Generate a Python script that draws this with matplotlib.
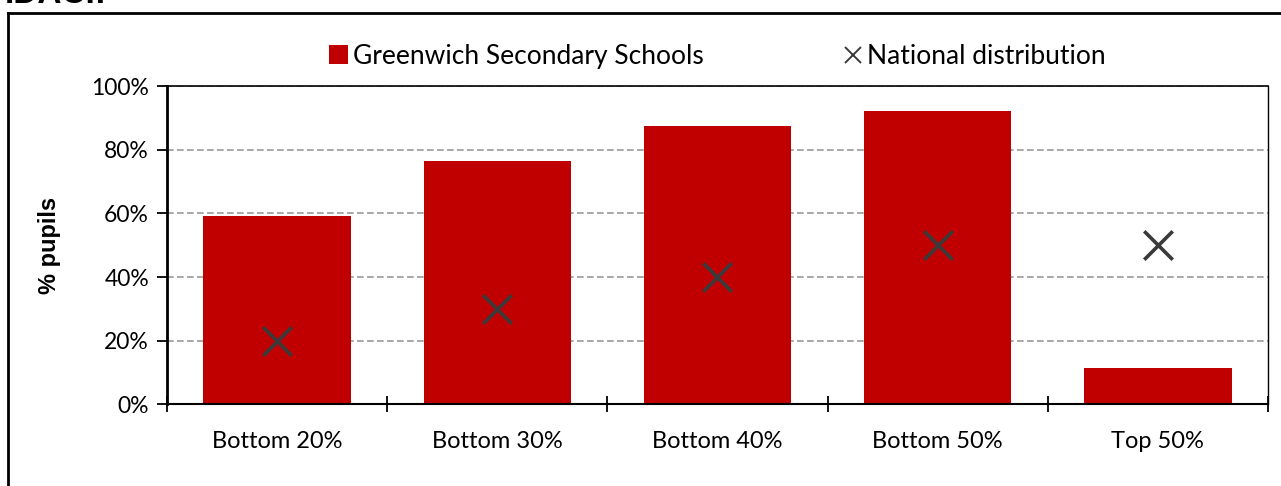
import matplotlib.pyplot as plt
from matplotlib.lines import Line2D
from matplotlib.ticker import PercentFormatter, FixedLocator

# data
categories = ["Bottom 20%", "Bottom 30%", "Bottom 40%", "Bottom 50%", "Top 50%"]
greenwich = [59.3, 76.3, 87.5, 92.0, 11.5]
national = [20, 30, 40, 50, 50]

plt.rcParams['font.family'] = ['Lato', 'DejaVu Sans']

fig = plt.figure(figsize=(12.81, 4.86), dpi=100)
ax = fig.add_axes([0.1304, 0.168, 0.8594, 0.655])

x = list(range(len(categories)))
bars = ax.bar(x, greenwich, width=0.67, color="#c00000", zorder=2,
              label="Greenwich Secondary Schools")
ax.scatter(x, national, marker="x", s=420, linewidths=2.6, color="#3a3a3a",
           zorder=3, label="National distribution")

ax.set_xlim(-0.5, len(categories) - 0.5)
ax.set_ylim(0, 100)
ax.yaxis.set_major_locator(FixedLocator([0, 20, 40, 60, 80, 100]))
ax.yaxis.set_major_formatter(PercentFormatter(decimals=0))
ax.set_xticks(x)
ax.set_xticklabels(categories)
ax.xaxis.set_minor_locator(FixedLocator([i - 0.5 for i in range(len(categories) + 1)]))
ax.tick_params(axis="x", which="major", length=0, labelsize=17, pad=19)
ax.tick_params(axis="x", which="minor", length=11, width=1.3, direction="inout")
ax.tick_params(axis="y", labelsize=16.5, length=7, width=1.3, direction="out", pad=6)

ax.grid(axis="y", linestyle=(0, (4, 2)), color="#999999", linewidth=1.2, zorder=1)
ax.spines["left"].set_linewidth(2)
ax.spines["bottom"].set_linewidth(1.5)
ax.spines["top"].set_linewidth(1.2)
ax.spines["right"].set_linewidth(1)

ax.set_ylabel("% pupils", fontsize=17, fontweight="bold",
              family=["Liberation Sans", "DejaVu Sans"], labelpad=22)

# legend: bar first, then a thin cross like the reference
cross = Line2D([], [], linestyle="none", marker="x", markersize=11,
               markeredgewidth=1.4, color="#3a3a3a")
ax.legend([bars, cross], ["Greenwich Secondary Schools", "National distribution"],
          loc="center", bbox_to_anchor=(0.5, 1.093), ncol=2,
          frameon=False, fontsize=19, handletextpad=0.2, columnspacing=5.3,
          handlelength=0.7, handleheight=0.7)

# partial title cut by the top edge and the outer frame
fig.text(0.004, 1 - 3 / 486, "IDACI:", fontsize=24, fontweight="bold",
         va="baseline", family=["Liberation Sans", "DejaVu Sans"])
fig.add_artist(Line2D([0.0065, 0.0065], [0, 0.974], color="black", lw=2))
fig.add_artist(Line2D([0.0065, 1.0], [0.974, 0.974], color="black", lw=2))

fig.savefig("out.png", dpi=100)
